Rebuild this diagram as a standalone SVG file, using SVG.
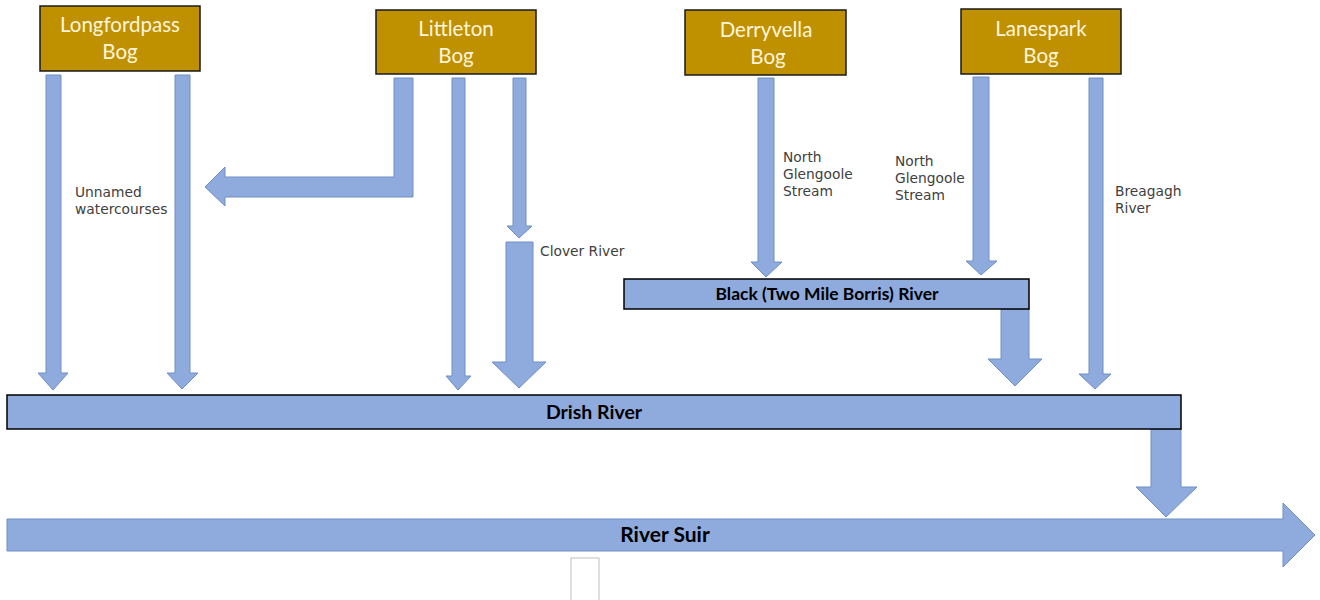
<svg xmlns="http://www.w3.org/2000/svg" width="1320" height="600" viewBox="0 0 1320 600">
<style>
.bog{fill:#BF9000;stroke:#1a1a1a;stroke-width:1.5}
.bogt{font-family:Lato,"Liberation Sans",sans-serif;font-size:20.5px;fill:#FFF5DC;text-anchor:middle}
.arr{fill:#8FAADC;stroke:#6F8FC4;stroke-width:1}
.riv{fill:#8FAADC;stroke:#000;stroke-width:1.5}
.rivt{font-family:Lato,"Liberation Sans",sans-serif;font-weight:bold;fill:#000;text-anchor:middle}
.lbl{font-family:"DejaVu Sans",sans-serif;font-size:13.8px;fill:#404040}
</style>
<rect width="1320" height="600" fill="#fff"/>
<g id="connectors">
<polygon class="arr" points="46,75 61,75 61,373 68,373 53,390 38,373 46,373"/>
<polygon class="arr" points="175,75 190,75 190,373 198,373 182,389 167,373 175,373"/>
<polygon class="arr" points="394,78 413,78 413,197 225,197 225,206 205,187 225,167 225,177 394,177"/>
<polygon class="arr" points="452,78 465,78 465,376 471,376 458,390 446,376 452,376"/>
<polygon class="arr" points="513,78 526,78 526,226 532,226 519,238 507,226 513,226"/>
<polygon class="arr" points="506,242 533,242 533,362 546,362 519,388 492,362 506,362"/>
<polygon class="arr" points="758,78 774,78 774,262 782,262 766,277 751,262 758,262"/>
<polygon class="arr" points="973,77 989,77 989,261 997,261 981,275 966,261 973,261"/>
<polygon class="arr" points="1001,309 1029,309 1029,359 1042,359 1015,386 988,359 1001,359"/>
<polygon class="arr" points="1089,78 1103,78 1103,374 1111,374 1095,389 1079,374 1089,374"/>
<polygon class="arr" points="1151,429 1181,429 1181,487 1197,487 1166,517 1136,487 1151,487"/>
</g>
<g id="longfordpass">
<rect class="bog" x="40" y="6" width="160" height="65"/>
<text class="bogt" x="120" y="32">Longfordpass</text>
<text class="bogt" x="120" y="59">Bog</text>
</g>
<g id="littleton">
<rect class="bog" x="376" y="10" width="160" height="64"/>
<text class="bogt" x="456" y="36">Littleton</text>
<text class="bogt" x="456" y="63">Bog</text>
</g>
<g id="derryvella">
<rect class="bog" x="685" y="10" width="161" height="65"/>
<text class="bogt" x="766" y="37">Derryvella</text>
<text class="bogt" x="768" y="64">Bog</text>
</g>
<g id="lanespark">
<rect class="bog" x="961" y="9" width="160" height="65"/>
<text class="bogt" x="1041" y="36">Lanespark</text>
<text class="bogt" x="1041" y="63">Bog</text>
</g>
<g id="labels">
<text class="lbl" x="75" y="197">Unnamed</text>
<text class="lbl" x="75" y="214">watercourses</text>
<text class="lbl" x="540" y="256">Clover River</text>
<text class="lbl" x="783" y="162">North</text>
<text class="lbl" x="783" y="179">Glengoole</text>
<text class="lbl" x="783" y="196">Stream</text>
<text class="lbl" x="895" y="166">North</text>
<text class="lbl" x="895" y="183">Glengoole</text>
<text class="lbl" x="895" y="200">Stream</text>
<text class="lbl" x="1115" y="196">Breagagh</text>
<text class="lbl" x="1115" y="213">River</text>
</g>
<g id="black-river">
<rect class="riv" x="624" y="279" width="405" height="30"/>
<text class="rivt" x="827" y="300" font-size="17.5">Black (Two Mile Borris) River</text>
</g>
<g id="drish-river">
<rect class="riv" x="7" y="395" width="1174" height="34"/>
<text class="rivt" x="594" y="419" font-size="19.5">Drish River</text>
</g>
<g id="river-suir">
<polygon class="arr" points="7,519 1283,519 1283,503 1315,535 1283,567 1283,551 7,551"/>
<text class="rivt" x="665" y="542" font-size="21">River Suir</text>
</g>
<rect x="571" y="558" width="28" height="44" fill="#fff" stroke="#c0c0c0" stroke-width="1"/>
</svg>
